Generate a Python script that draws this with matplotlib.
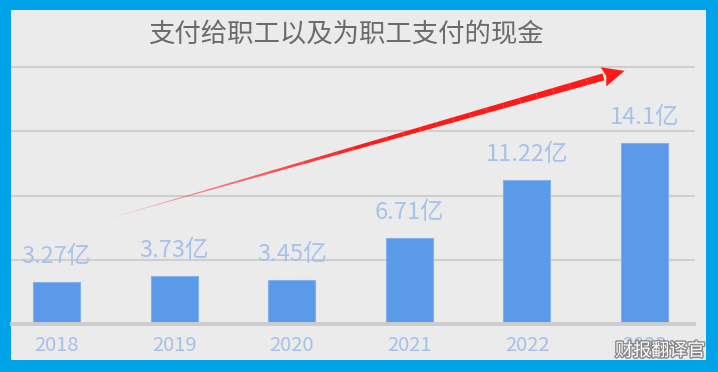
import numpy as np
import matplotlib
matplotlib.use('Agg')
import matplotlib.pyplot as plt
from matplotlib.patches import Rectangle, Polygon
from matplotlib.transforms import IdentityTransform
import matplotlib.patheffects as pe

plt.rcParams['font.family'] = ['Noto Sans CJK SC', 'DejaVu Sans']

years = ['2018', '2019', '2020', '2021', '2022', '2023']
values = [3.27, 3.73, 3.45, 6.71, 11.22, 14.1]
labels = ['3.27亿', '3.73亿', '3.45亿', '6.71亿', '11.22亿', '14.1亿']
title = '支付给职工以及为职工支付的现金'

W, H = 718, 372
fig = plt.figure(figsize=(W / 100, H / 100), dpi=100)
fig.patch.set_facecolor('#00A2E8')

# inner grey panel
fig.add_artist(Rectangle((11 / W, 12 / H), 695 / W, 350 / H,
                         transform=fig.transFigure, facecolor='#EBEBEB',
                         edgecolor='none', zorder=0))

ax = fig.add_axes([12 / W, 48 / H, 682 / W, 257 / H])
ax.set_facecolor('none')
ax.set_xlim(-0.378, 5.42)
ax.set_ylim(0, 20)
for s in ax.spines.values():
    s.set_visible(False)
ax.set_yticks([])

for g in [5, 10, 15, 20]:
    ax.axhline(g, color='#CFCFCF', lw=1.5, zorder=1, clip_on=False)
ax.axhline(0, color='#CCCCCC', lw=2.8, zorder=3, clip_on=False)

x = np.arange(len(years))
ax.bar(x, values, width=0.4, color='#5B9AE8', edgecolor='#86B0EC',
       linewidth=0.8, zorder=2)

for xi, v, lab in zip(x, values, labels):
    ax.annotate(lab, (xi, v), xytext=(0, 10), textcoords='offset points',
                ha='center', va='bottom', fontsize=17, color='#A7C2EA')

ax.set_xticks(x)
ax.set_xticklabels(years, fontsize=14.5, color='#A6C0E8')
ax.tick_params(axis='x', length=0, pad=8)

fig.text(346 / W, 1 - 34 / H, title, ha='center', va='center',
         fontsize=19, color='#6B6B6B')

# red trend arrow (annotation), tail and tip given in data coords
tail = ax.transData.transform((0.4, 8.1))
tip = ax.transData.transform((4.83, 19.7))
d = tip - tail
L = np.hypot(*d)
u = d / L
n = np.array([-u[1], u[0]])
head_len, head_half, shaft_half = 22, 10, 3.6
base = tip - u * head_len
steps = 30
for i in range(steps):
    t0, t1 = i / steps, (i + 1) / steps
    p0 = tail + (base - tail) * t0
    p1 = tail + (base - tail) * t1
    w0, w1 = shaft_half * t0, shaft_half * t1
    a = min(1.0, 0.15 + 1.6 * t1)
    poly = [p0 + n * w0, p1 + n * w1, p1 - n * w1, p0 - n * w0]
    fig.add_artist(Polygon(poly, closed=True, transform=IdentityTransform(),
                           facecolor='#FF1A1A', edgecolor='none', alpha=a,
                           zorder=5))
head = [tip, base + n * head_half, base + u * 3, base - n * head_half]
fig.add_artist(Polygon(head, closed=True, transform=IdentityTransform(),
                       facecolor='#FF1A1A', edgecolor='none', zorder=5))

# watermark (covers the last tick label, as in the source)
fig.text(705 / W, 1 - 351 / H, '财报翻译官', ha='right', va='center',
         fontsize=13, color='white',
         path_effects=[pe.withStroke(linewidth=2, foreground='#888888')],
         zorder=6)

fig.savefig('out.png', dpi=100)
